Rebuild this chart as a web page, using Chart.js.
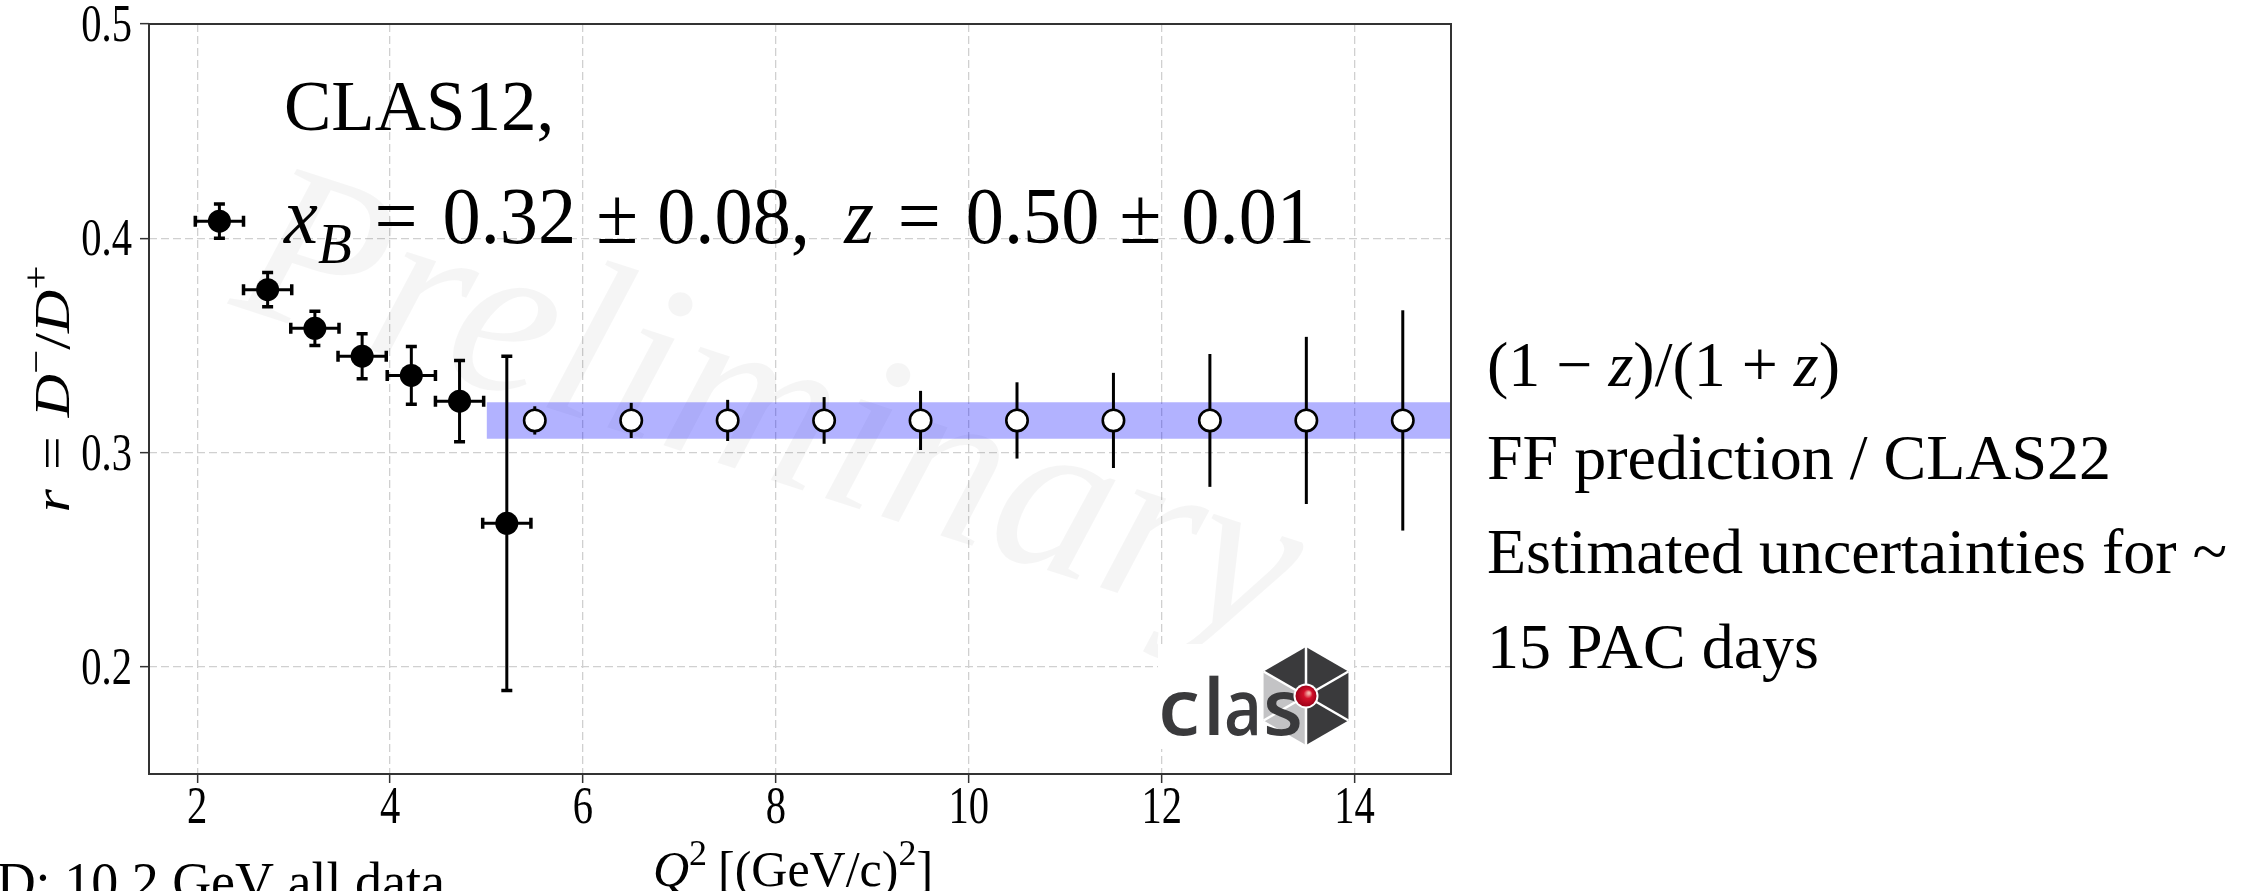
<!DOCTYPE html>
<html>
<head>
<meta charset="utf-8">
<script src="https://cdn.jsdelivr.net/npm/chart.js@4.4.0/dist/chart.umd.min.js"></script>
<style>
  html, body { margin: 0; padding: 0; background: #fff; }
  canvas { display: block; }
</style>
</head>
<body>
<canvas id="c" width="2253" height="891"></canvas>
<script>
// CLAS12 measured points (filled)
const q2Meas = [2.23, 2.73, 3.22, 3.71, 4.22, 4.72, 5.21];
const rMeas = [0.408, 0.376, 0.358, 0.345, 0.336, 0.324, 0.267];
const rMeasErr = [0.008, 0.008, 0.008, 0.0105, 0.0135, 0.019, 0.078];
const q2MeasErr = [0.25, 0.25, 0.25, 0.25, 0.25, 0.25, 0.25];

// projected points, ~15 PAC days (open)
const q2Proj = [5.5, 6.5, 7.5, 8.5, 9.5, 10.5, 11.5, 12.5, 13.5, 14.5];
const rProj = [0.315, 0.315, 0.315, 0.315, 0.315, 0.315, 0.315, 0.315, 0.315, 0.315];
const rProjErr = [0.0066, 0.0082, 0.0096, 0.0109, 0.0138, 0.0178, 0.0222, 0.031, 0.039, 0.0514];

// (1-z)/(1+z) band
const bandQ2 = [5.0, 15.0];
const bandLow = 0.3064;
const bandHigh = 0.3235;

const xTicks = [2, 4, 6, 8, 10, 12, 14];
const yTicks = [0.2, 0.3, 0.4, 0.5];

const SERIF = '"Liberation Serif", "Times New Roman", serif';

function fontStr(px, italic) {
  return (italic ? 'italic ' : '') + px + 'px ' + SERIF;
}

// parts: number = gap in px, [text, style] with style containing i / sub / sup
function layoutRich(ctx, parts, size) {
  let w = 0;
  const items = parts.map(p => {
    if (typeof p === 'number') { w += p; return null; }
    const st = p[1] || '';
    const small = st.includes('sub') || st.includes('sup');
    const s = small ? Math.round(size * 0.72) : size;
    const f = fontStr(s, st.includes('i'));
    ctx.font = f;
    const tw = ctx.measureText(p[0]).width;
    const dy = st.includes('sub') ? size * 0.25 : st.includes('sup') ? -size * 0.42 : 0;
    const it = { t: p[0], f: f, x: w, dy: dy };
    w += tw;
    return it;
  }).filter(Boolean);
  return { items, w };
}

function drawRich(ctx, parts, size, x, y, opts) {
  opts = opts || {};
  const lay = layoutRich(ctx, parts, size);
  const sx = opts.width ? opts.width / lay.w : 1;
  ctx.save();
  ctx.translate(x, y);
  if (opts.rotate) ctx.rotate(opts.rotate);
  ctx.scale(sx, 1);
  const x0 = opts.center ? -lay.w / 2 : 0;
  ctx.textBaseline = 'alphabetic';
  ctx.textAlign = 'left';
  ctx.fillStyle = '#000';
  lay.items.forEach(it => {
    ctx.font = it.f;
    ctx.fillText(it.t, x0 + it.x, it.dy);
  });
  ctx.restore();
}

// condensed serif label, like the original figure's tick font
function drawTickLabel(ctx, text, x, y, align) {
  ctx.save();
  ctx.font = fontStr(52, false);
  const w = ctx.measureText(text).width * 0.78;
  const left = align === 'right' ? x - w : x - w / 2;
  ctx.translate(left, y);
  ctx.scale(0.78, 1);
  ctx.textAlign = 'left';
  ctx.textBaseline = 'alphabetic';
  ctx.fillStyle = '#000';
  ctx.fillText(text, 0, 0);
  ctx.restore();
}

function drawLogo(ctx) {
  ctx.save();
  ctx.fillStyle = '#fff';
  ctx.fillRect(1158, 644, 196, 105);
  const cx = 1306, cy = 696, R = 49;
  const vert = k => {
    const a = (-90 + 60 * k) * Math.PI / 180;
    return [cx + R * Math.cos(a), cy + R * Math.sin(a)];
  };
  const segCols = ['#3a3a3c', '#3a3a3c', '#3a3a3c', '#c3c3c5', '#c3c3c5', '#3a3a3c'];
  for (let k = 0; k < 6; k++) {
    const a = vert(k), b = vert(k + 1);
    ctx.beginPath();
    ctx.moveTo(cx, cy); ctx.lineTo(a[0], a[1]); ctx.lineTo(b[0], b[1]);
    ctx.closePath();
    ctx.fillStyle = segCols[k];
    ctx.fill();
  }
  ctx.strokeStyle = '#fff';
  ctx.lineWidth = 2.5;
  for (let k = 0; k < 6; k++) {
    const a = vert(k);
    ctx.beginPath(); ctx.moveTo(cx, cy); ctx.lineTo(a[0], a[1]); ctx.stroke();
  }
  // "clas" lettering, glyph by glyph
  ctx.font = '600 78px "Open Sans", "DejaVu Sans", sans-serif';
  ctx.textBaseline = 'alphabetic';
  ctx.fillStyle = '#3a3a3c';
  const letters = ['c', 'l', 'a', 's'];
  const slots = [1158, 1203, 1224, 1263];
  const widths = [42, 0, 38, 40];
  letters.forEach((ch, i) => {
    const tw = ctx.measureText(ch).width;
    ctx.save();
    ctx.translate(slots[i], 735);
    if (widths[i]) ctx.scale(widths[i] / tw, 1);
    ctx.fillText(ch, 0, 0);
    ctx.restore();
  });
  // red ball
  ctx.beginPath();
  ctx.arc(cx, cy, 12.5, 0, Math.PI * 2);
  ctx.fillStyle = '#fff';
  ctx.fill();
  const g = ctx.createRadialGradient(cx + 3, cy - 3, 1, cx, cy, 11);
  g.addColorStop(0, '#f4b0a8');
  g.addColorStop(0.35, '#d4102a');
  g.addColorStop(1, '#9a0018');
  ctx.beginPath();
  ctx.arc(cx, cy, 10.5, 0, Math.PI * 2);
  ctx.fillStyle = g;
  ctx.fill();
  ctx.restore();
}

const decor = {
  id: 'decor',
  beforeDatasetsDraw(chart) {
    const { ctx, chartArea: a } = chart;
    ctx.save();
    ctx.beginPath();
    ctx.rect(a.left, a.top, a.right - a.left, a.bottom - a.top);
    ctx.clip();
    ctx.translate(228, 304);
    ctx.rotate(18 * Math.PI / 180);
    ctx.font = fontStr(229, true);
    ctx.fillStyle = 'rgba(0,0,0,0.04)';
    ctx.textBaseline = 'alphabetic';
    ctx.fillText('Preliminary', 0, 0);
    ctx.restore();
  },
  afterDatasetDraw(chart, args) {
    if (args.index !== 0) return;
    const { ctx, scales: { x, y } } = chart;
    ctx.save();
    ctx.strokeStyle = '#000';
    ctx.lineCap = 'butt';
    // filled points: x and y errors with caps
    const cap = 5.5;
    for (let i = 0; i < q2Meas.length; i++) {
      const px = x.getPixelForValue(q2Meas[i]);
      const py = y.getPixelForValue(rMeas[i]);
      const x1 = x.getPixelForValue(q2Meas[i] - q2MeasErr[i]);
      const x2 = x.getPixelForValue(q2Meas[i] + q2MeasErr[i]);
      const y1 = y.getPixelForValue(rMeas[i] + rMeasErr[i]);
      const y2 = y.getPixelForValue(rMeas[i] - rMeasErr[i]);
      ctx.lineWidth = 3;
      ctx.beginPath();
      ctx.moveTo(x1, py); ctx.lineTo(x2, py);
      ctx.moveTo(px, y1); ctx.lineTo(px, y2);
      ctx.stroke();
      ctx.lineWidth = 3.5;
      ctx.beginPath();
      ctx.moveTo(x1, py - cap); ctx.lineTo(x1, py + cap);
      ctx.moveTo(x2, py - cap); ctx.lineTo(x2, py + cap);
      ctx.moveTo(px - cap, y1); ctx.lineTo(px + cap, y1);
      ctx.moveTo(px - cap, y2); ctx.lineTo(px + cap, y2);
      ctx.stroke();
    }
    // open points: y errors, no caps
    ctx.lineWidth = 3;
    for (let i = 0; i < q2Proj.length; i++) {
      const px = x.getPixelForValue(q2Proj[i]);
      ctx.beginPath();
      ctx.moveTo(px, y.getPixelForValue(rProj[i] + rProjErr[i]));
      ctx.lineTo(px, y.getPixelForValue(rProj[i] - rProjErr[i]));
      ctx.stroke();
    }
    ctx.restore();
  },
  afterDraw(chart) {
    const { ctx, chartArea: a, scales } = chart;
    drawLogo(ctx);
    // axes frame
    ctx.save();
    ctx.strokeStyle = '#333';
    ctx.lineWidth = 2;
    ctx.strokeRect(a.left, a.top, a.right - a.left, a.bottom - a.top);
    ctx.restore();

    // tick labels from the scales' ticks
    scales.x.ticks.forEach(t => {
      drawTickLabel(ctx, String(t.value), scales.x.getPixelForValue(t.value), 823, 'center');
    });
    scales.y.ticks.forEach(t => {
      drawTickLabel(ctx, t.value.toFixed(1), 132, scales.y.getPixelForValue(t.value) + 17, 'right');
    });

    // legend text
    drawRich(ctx, [['CLAS12,']], 71, 284, 130);
    drawRich(ctx, [
      ['x', 'i'], ['B', 'i sub'], 24, ['='], 26, ['0.32'], 21, ['±'], 20, ['0.08,'], 36,
      ['z', 'i'], 25, ['='], 26, ['0.50'], 21, ['±'], 21, ['0.01']
    ], 80, 284, 243, { width: 1031 });

    // right-hand annotations
    drawRich(ctx, [['(1 − '], ['z', 'i'], [')/(1 + '], ['z', 'i'], [')']], 64, 1487, 386);
    drawRich(ctx, [['FF prediction / CLAS22']], 64, 1487, 479);
    drawRich(ctx, [['Estimated uncertainties for ~']], 64, 1487, 573);
    drawRich(ctx, [['15 PAC days']], 64, 1487, 668);

    // axis titles
    drawRich(ctx, [['Q', 'i'], ['2', 'sup'], 11, ['[(GeV/c)'], ['2', 'sup'], [']']], 50, 793, 886, { center: true });
    drawRich(ctx, [['r', 'i'], 16, ['='], 16, ['D', 'i'], ['−', 'sup'], ['/'], ['D', 'i'], ['+', 'sup']], 50, 69, 389,
      { center: true, rotate: -Math.PI / 2, width: 247 });

    // run label, cut at the page edge
    ctx.save();
    ctx.font = fontStr(54, false);
    ctx.textAlign = 'right';
    ctx.textBaseline = 'alphabetic';
    ctx.fillStyle = '#000';
    ctx.fillText('D: 10.2 GeV all data', 445, 900);
    ctx.restore();
  }
};

const gridOpts = { color: '#d0d0d0', lineWidth: 1.3, tickLength: 9, tickColor: '#333', tickWidth: 1.5, tickBorderDash: [] };

new Chart(document.getElementById('c'), {
  type: 'scatter',
  data: {
    datasets: [
      {
        label: '(1 - z)/(1 + z)',
        type: 'line',
        data: bandQ2.map(v => ({ x: v, y: bandHigh })),
        fill: { value: bandLow },
        backgroundColor: 'rgba(0,0,255,0.3)',
        borderWidth: 0,
        pointRadius: 0,
        order: 10
      },
      {
        label: 'Estimated uncertainties',
        data: q2Proj.map((v, i) => ({ x: v, y: rProj[i] })),
        backgroundColor: '#fff',
        borderColor: '#000',
        borderWidth: 2.6,
        pointRadius: 10.7,
        order: 1
      },
      {
        label: 'CLAS12',
        data: q2Meas.map((v, i) => ({ x: v, y: rMeas[i] })),
        backgroundColor: '#000',
        borderWidth: 0,
        pointRadius: 11.5,
        order: 2
      }
    ]
  },
  options: {
    responsive: false,
    animation: false,
    layout: { padding: { left: 0, right: 802, top: 24, bottom: 0 } },
    plugins: { legend: { display: false }, tooltip: { enabled: false } },
    scales: {
      x: {
        type: 'linear',
        min: 1.5,
        max: 15,
        afterBuildTicks: s => { s.ticks = xTicks.map(v => ({ value: v })); },
        afterFit: s => { s.height = 117; },
        ticks: { display: false },
        grid: gridOpts,
        border: { display: false, dash: [8, 4] }
      },
      y: {
        type: 'linear',
        min: 0.15,
        max: 0.5,
        afterBuildTicks: s => { s.ticks = yTicks.map(v => ({ value: v })); },
        afterFit: s => { s.width = 149; },
        ticks: { display: false },
        grid: gridOpts,
        border: { display: false, dash: [8, 4] }
      }
    }
  },
  plugins: [decor]
});
</script>
</body>
</html>
